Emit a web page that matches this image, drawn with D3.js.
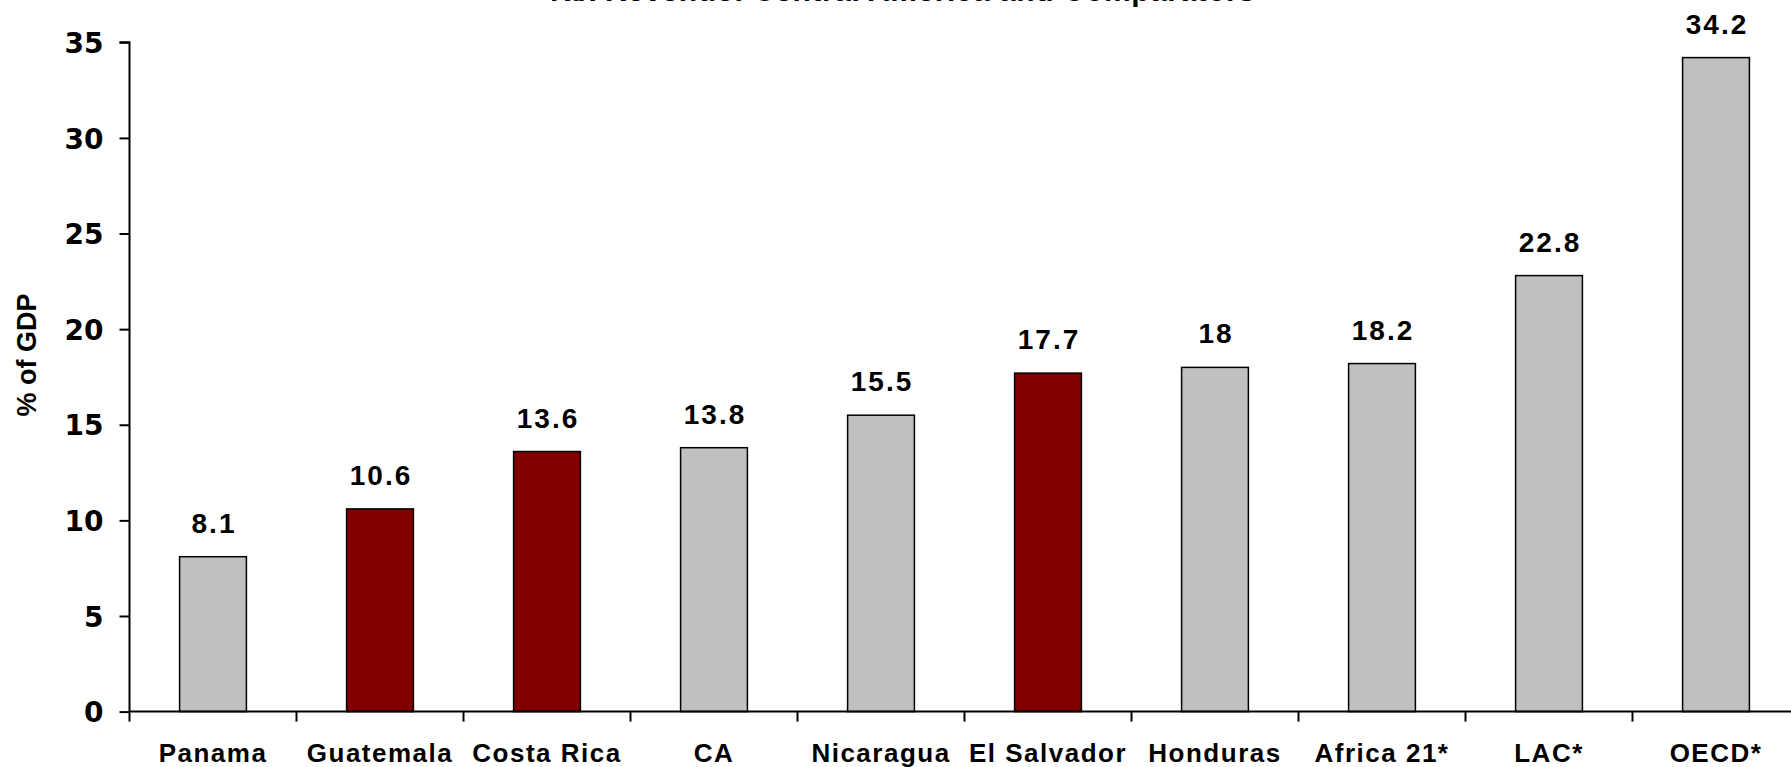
<!DOCTYPE html>
<html>
<head>
<meta charset="utf-8">
<script src="https://cdn.jsdelivr.net/npm/d3@7"></script>
<style>
  html, body { margin: 0; padding: 0; background: #fff; overflow: hidden; }
  svg { display: block; }
</style>
</head>
<body>
<svg id="chart" width="1791" height="767"></svg>
<script>
const categories = ["Panama", "Guatemala", "Costa Rica", "CA", "Nicaragua", "El Salvador", "Honduras", "Africa 21*", "LAC*", "OECD*"];
const values = [8.1, 10.6, 13.6, 13.8, 15.5, 17.7, 18, 18.2, 22.8, 34.2];
const highlighted = ["Guatemala", "Costa Rica", "El Salvador"];
const yTicks = [0, 5, 10, 15, 20, 25, 30, 35];
const valueLabels = ["8.1", "10.6", "13.6", "13.8", "15.5", "17.7", "18", "18.2", "22.8", "34.2"];
const titleText = "Tax Revenue: Central America and Comparators";
const yTitle = "% of GDP";

const svg = d3.select("#chart");
const mLeft = 129.5, mRight = 1799.5, mTop = 42.3, mBottom = 711.6;

const x = d3.scaleBand().domain(categories).range([mLeft, mRight]).paddingInner(0.6).paddingOuter(0.3);
const xTicksScale = d3.scaleBand().domain(categories).range([mLeft, mRight]);
const y = d3.scaleLinear().domain([0, 35]).range([mBottom, mTop]);

// title (mostly off-canvas at the top, as in the reference)
svg.append("text")
  .attr("x", 900).attr("y", 1)
  .attr("text-anchor", "middle")
  .attr("font-family", "Liberation Sans, Arial, sans-serif")
  .attr("font-weight", "bold").attr("font-size", 30)
  .attr("fill", "#000")
  .attr("textLength", 710).attr("lengthAdjust", "spacing")
  .text(titleText);

// bars
const data = categories.map((c, i) => ({ c, v: values[i], label: valueLabels[i] }));
svg.append("g").selectAll("rect").data(data).join("rect")
  .attr("x", d => x(d.c))
  .attr("width", x.bandwidth())
  .attr("y", d => y(d.v))
  .attr("height", d => y(0) - y(d.v))
  .attr("fill", d => highlighted.includes(d.c) ? "#800000" : "#C0C0C0")
  .attr("stroke", "#000").attr("stroke-width", 1.5);

// value labels
svg.append("g").selectAll("text").data(data).join("text")
  .attr("x", d => x(d.c) + x.bandwidth() / 2 + 1)
  .attr("y", d => y(d.v) - 24)
  .attr("text-anchor", "middle")
  .attr("font-family", "Liberation Sans, Arial, sans-serif")
  .attr("font-weight", "bold").attr("font-size", 28)
  .attr("letter-spacing", 2)
  .attr("fill", "#000")
  .text(d => d.label);

// y axis
const yAxis = d3.axisLeft(y).tickValues(yTicks).tickSize(10).tickPadding(16).tickFormat(d3.format("d"));
const gy = svg.append("g").attr("transform", `translate(${mLeft},0)`).call(yAxis);
gy.select(".domain").attr("stroke", "#000").attr("stroke-width", 2).attr("d", `M-10,${mTop}H0V${mBottom}`);
gy.selectAll(".tick line").attr("stroke", "#000").attr("stroke-width", 2);
gy.selectAll(".tick text")
  .attr("font-family", "DejaVu Sans, Verdana, sans-serif")
  .attr("font-weight", "bold").attr("font-size", 28)
  .attr("dy", "0.36em")
  .attr("fill", "#000");

// x axis
const xAxis = d3.axisBottom(xTicksScale).tickSize(0).tickPadding(32);
const gx = svg.append("g").attr("transform", `translate(0,${mBottom})`).call(xAxis);
gx.select(".domain").attr("stroke", "#000").attr("stroke-width", 2).attr("d", `M${mLeft},0H${mRight}`);
gx.selectAll(".tick text")
  .attr("font-family", "Liberation Sans Narrow, Liberation Sans, Arial, sans-serif")
  .attr("font-weight", "bold").attr("font-size", 26)
  .attr("letter-spacing", 1.5)
  .attr("fill", "#000");
// category boundary ticks
svg.append("g").selectAll("line").data(categories).join("line")
  .attr("x1", d => xTicksScale(d)).attr("x2", d => xTicksScale(d))
  .attr("y1", mBottom).attr("y2", mBottom + 10)
  .attr("stroke", "#000").attr("stroke-width", 2);

// y title
svg.append("text")
  .attr("transform", `translate(36,355) rotate(-90)`)
  .attr("text-anchor", "middle")
  .attr("font-family", "Liberation Sans Narrow, Liberation Sans, Arial, sans-serif")
  .attr("font-weight", "bold").attr("font-size", 27)
  .attr("fill", "#000")
  .text(yTitle);
</script>
</body>
</html>
